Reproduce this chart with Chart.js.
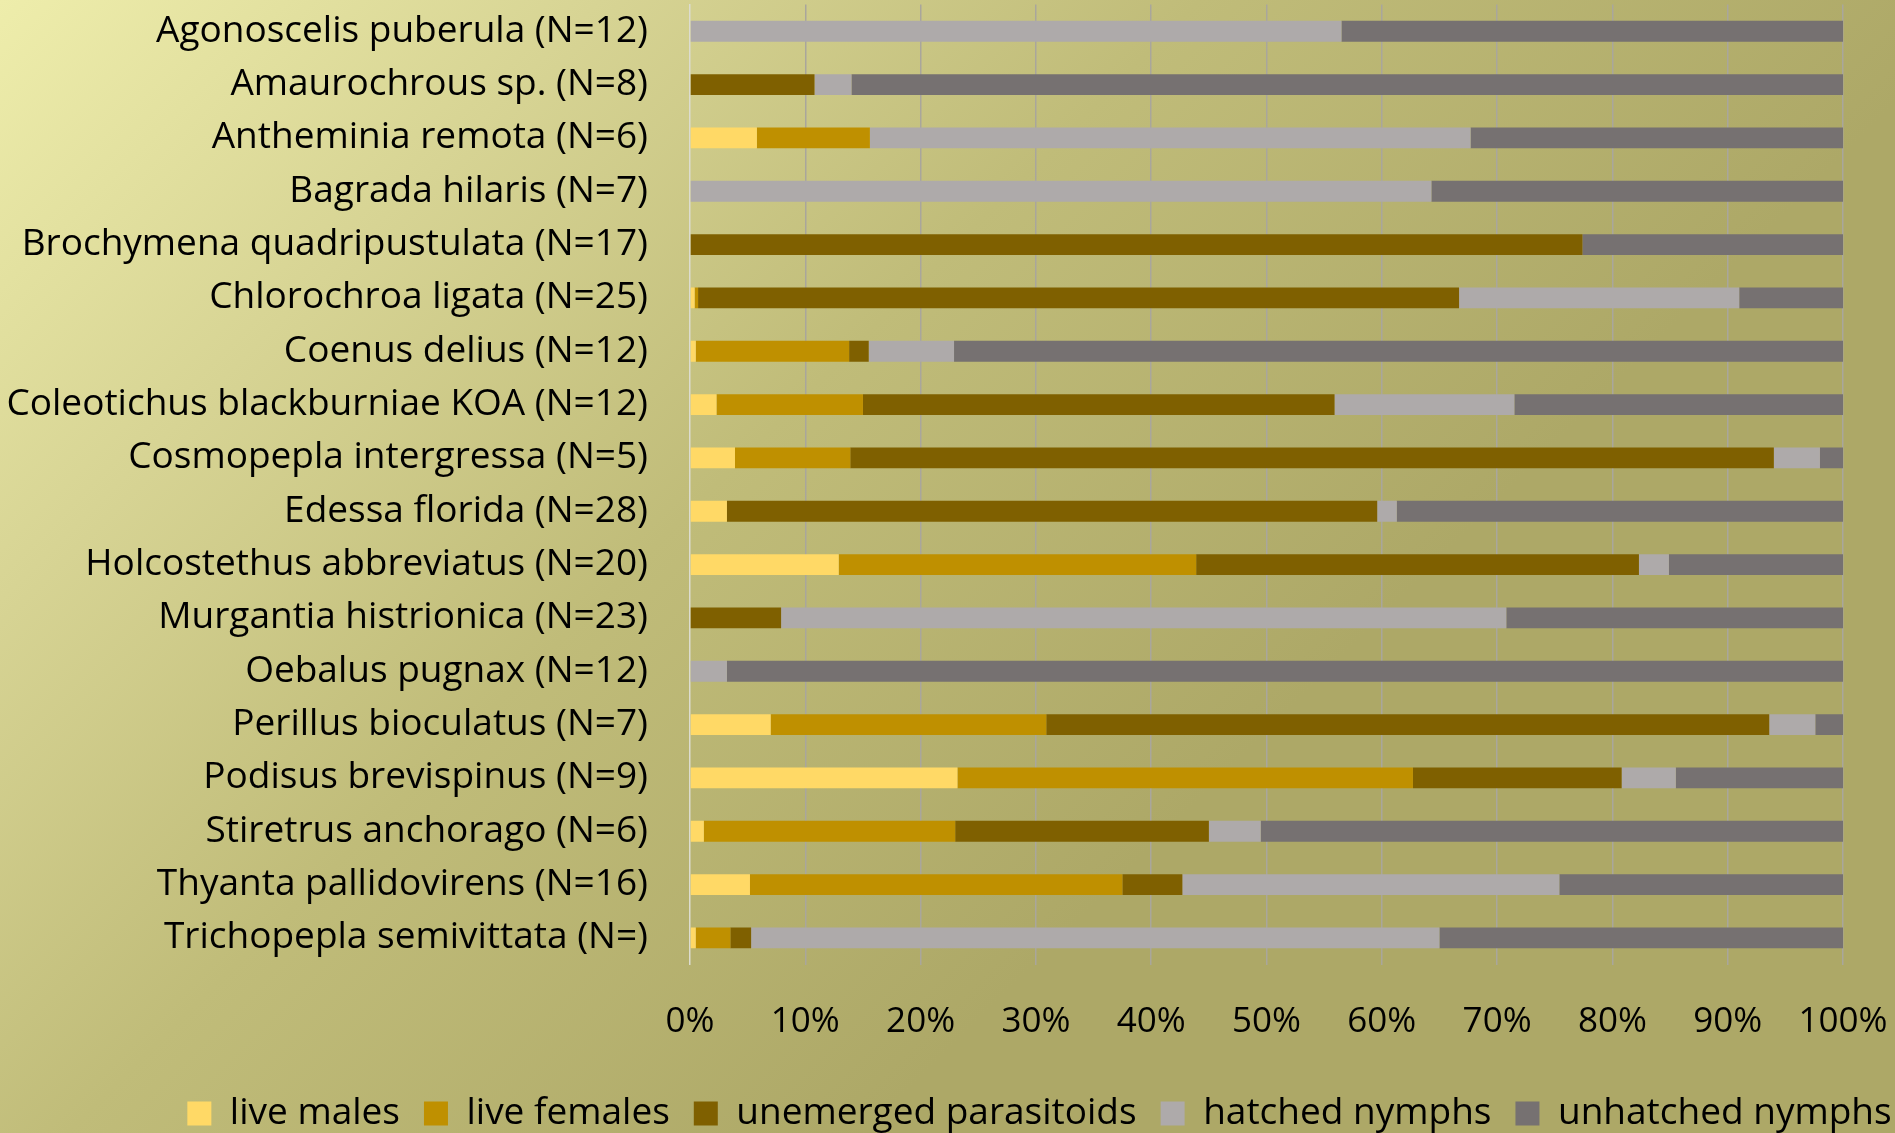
<!DOCTYPE html>
<html>
<head>
<meta charset="utf-8">
<script src="https://cdn.jsdelivr.net/npm/chart.js@4.4.0/dist/chart.umd.min.js"></script>
<style>
  html, body { margin: 0; padding: 0; }
  #wrap { width: 1895px; height: 1133px; }
</style>
</head>
<body>
<div id="wrap"><canvas id="eggChart"></canvas></div>
<script>
// species (top to bottom)
const species = [
  'Agonoscelis puberula (N=12)',
  'Amaurochrous sp. (N=8)',
  'Antheminia remota (N=6)',
  'Bagrada hilaris (N=7)',
  'Brochymena quadripustulata (N=17)',
  'Chlorochroa ligata (N=25)',
  'Coenus delius (N=12)',
  'Coleotichus blackburniae KOA (N=12)',
  'Cosmopepla intergressa (N=5)',
  'Edessa florida (N=28)',
  'Holcostethus abbreviatus (N=20)',
  'Murgantia histrionica (N=23)',
  'Oebalus pugnax (N=12)',
  'Perillus bioculatus (N=7)',
  'Podisus brevispinus (N=9)',
  'Stiretrus anchorago (N=6)',
  'Thyanta pallidovirens (N=16)',
  'Trichopepla semivittata (N=)'
];

// percentages
const liveMales     = [0, 0, 5.8, 0, 0, 0.4, 0.5, 2.3, 3.9, 3.2, 12.9, 0, 0, 7.0, 23.2, 1.2, 5.2, 0.5];
const liveFemales   = [0, 0, 9.8, 0, 0, 0.3, 13.3, 12.7, 10.0, 0, 31.0, 0, 0, 23.9, 39.5, 21.8, 32.3, 3.0];
const parasitoids   = [0, 10.8, 0, 0, 77.4, 66.0, 1.7, 40.9, 80.1, 56.4, 38.4, 7.9, 0, 62.7, 18.1, 22.0, 5.2, 1.8];
const hatched       = [56.5, 3.2, 52.1, 64.3, 0, 24.3, 7.4, 15.6, 4.0, 1.7, 2.6, 62.9, 3.2, 4.0, 4.7, 4.5, 32.7, 59.7];
const unhatched     = [43.5, 86.0, 32.3, 35.7, 22.6, 9.0, 77.1, 28.5, 2.0, 38.7, 15.1, 29.2, 96.8, 2.4, 14.5, 50.5, 24.6, 35.0];

const xTicks = [0, 10, 20, 30, 40, 50, 60, 70, 80, 90, 100];

// background like the office chart
const bgPlugin = {
  id: 'bg',
  beforeDraw(chart) {
    const c = chart.ctx;
    const g = c.createLinearGradient(0, 0, 1000, 1000);
    g.addColorStop(0, '#EEEDAB');
    g.addColorStop(0.3, '#D7D494');
    g.addColorStop(0.6, '#C0BC79');
    g.addColorStop(1, '#ADA867');
    c.save();
    c.fillStyle = g;
    c.fillRect(0, 0, chart.width, chart.height);
    c.restore();
  },
  // legend in the original sits right of centre, near the bottom edge
  afterLayout(chart) {
    chart.legend.left = 139;
    chart.legend.right = 1940;
    chart.legend.top = 1071;
  }
};

const font = 'Open Sans';

const ctx = document.getElementById('eggChart').getContext('2d');
const eggChart = new Chart(ctx, {
  type: 'bar',
  data: {
    labels: species,
    datasets: [
      { label: 'live males', data: liveMales, backgroundColor: '#FFD966' },
      { label: 'live females', data: liveFemales, backgroundColor: '#BF9000' },
      { label: 'unemerged parasitoids', data: parasitoids, backgroundColor: '#7F6000' },
      { label: 'hatched nymphs', data: hatched, backgroundColor: '#AEAAAA' },
      { label: 'unhatched nymphs', data: unhatched, backgroundColor: '#767171' }
    ]
  },
  options: {
    indexAxis: 'y',
    responsive: true,
    maintainAspectRatio: false,
    animation: false,
    categoryPercentage: 1,
    barPercentage: 0.39,
    layout: { padding: { top: 4.6, left: 0, right: 52, bottom: -17.4 } },
    plugins: {
      legend: {
        position: 'bottom',
        labels: {
          color: '#000',
          font: { family: font, size: 37 },
          boxWidth: 24,
          boxHeight: 24,
          padding: 24
        }
      },
      tooltip: { enabled: false }
    },
    scales: {
      x: {
        stacked: true,
        min: 0,
        max: 100,
        afterBuildTicks(scale) {
          scale.ticks = xTicks.map(v => ({ value: v }));
        },
        afterFit(scale) {
          scale.paddingLeft = 0;
          scale.paddingRight = 0;
        },
        ticks: {
          color: '#000',
          font: { family: font, size: 35 },
          padding: 36.4,
          callback: v => v + '%'
        },
        grid: {
          color: c => c.tick && c.tick.value === 0 ? 'rgba(0,0,0,0)' : '#A9A69C',
          lineWidth: 1.5,
          drawTicks: false
        },
        border: { display: false }
      },
      y: {
        stacked: true,
        afterFit(scale) {
          scale.width = 690;
          scale.paddingTop = 0;
          scale.paddingBottom = 0;
        },
        ticks: {
          color: '#000',
          font: { family: font, size: 37 },
          padding: 42
        },
        grid: { display: false, drawTicks: false },
        border: { color: '#DCDCD0', width: 1.5 }
      }
    }
  },
  plugins: [bgPlugin]
});
</script>
</body>
</html>
